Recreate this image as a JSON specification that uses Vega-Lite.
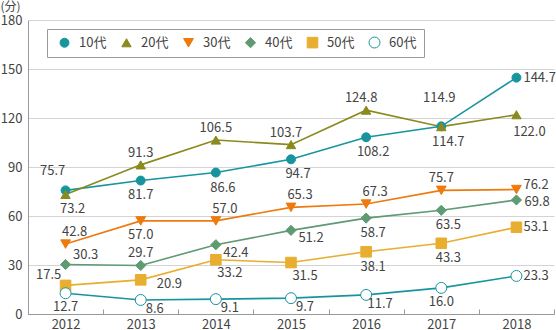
{
  "$schema": "https://vega.github.io/schema/vega-lite/v6.json",
  "width": 526,
  "height": 294,
  "autosize": {"type": "none"},
  "padding": {"left": 28, "top": 20, "right": 2, "bottom": 16},
  "config": {
    "view": {"stroke": null},
    "font": "Noto Sans CJK JP",
    "text": {"font": "Noto Sans CJK JP", "fontSize": 13, "fill": "#444"}
  },
  "data": {
    "values": [
      {"series": "10代", "year": "2012", "value": 75.7},
      {"series": "10代", "year": "2013", "value": 81.7},
      {"series": "10代", "year": "2014", "value": 86.6},
      {"series": "10代", "year": "2015", "value": 94.7},
      {"series": "10代", "year": "2016", "value": 108.2},
      {"series": "10代", "year": "2017", "value": 114.9},
      {"series": "10代", "year": "2018", "value": 144.7},
      {"series": "20代", "year": "2012", "value": 73.2},
      {"series": "20代", "year": "2013", "value": 91.3},
      {"series": "20代", "year": "2014", "value": 106.5},
      {"series": "20代", "year": "2015", "value": 103.7},
      {"series": "20代", "year": "2016", "value": 124.8},
      {"series": "20代", "year": "2017", "value": 114.7},
      {"series": "20代", "year": "2018", "value": 122.0},
      {"series": "30代", "year": "2012", "value": 42.8},
      {"series": "30代", "year": "2013", "value": 57.0},
      {"series": "30代", "year": "2014", "value": 57.0},
      {"series": "30代", "year": "2015", "value": 65.3},
      {"series": "30代", "year": "2016", "value": 67.3},
      {"series": "30代", "year": "2017", "value": 75.7},
      {"series": "30代", "year": "2018", "value": 76.2},
      {"series": "40代", "year": "2012", "value": 30.3},
      {"series": "40代", "year": "2013", "value": 29.7},
      {"series": "40代", "year": "2014", "value": 42.4},
      {"series": "40代", "year": "2015", "value": 51.2},
      {"series": "40代", "year": "2016", "value": 58.7},
      {"series": "40代", "year": "2017", "value": 63.5},
      {"series": "40代", "year": "2018", "value": 69.8},
      {"series": "50代", "year": "2012", "value": 17.5},
      {"series": "50代", "year": "2013", "value": 20.9},
      {"series": "50代", "year": "2014", "value": 33.2},
      {"series": "50代", "year": "2015", "value": 31.5},
      {"series": "50代", "year": "2016", "value": 38.1},
      {"series": "50代", "year": "2017", "value": 43.3},
      {"series": "50代", "year": "2018", "value": 53.1},
      {"series": "60代", "year": "2012", "value": 12.7},
      {"series": "60代", "year": "2013", "value": 8.6},
      {"series": "60代", "year": "2014", "value": 9.1},
      {"series": "60代", "year": "2015", "value": 9.7},
      {"series": "60代", "year": "2016", "value": 11.7},
      {"series": "60代", "year": "2017", "value": 16.0},
      {"series": "60代", "year": "2018", "value": 23.3}
    ]
  },
  "encoding": {
    "x": {
      "field": "year", "type": "ordinal",
      "scale": {"type": "band", "paddingInner": 0, "paddingOuter": 0},
      "axis": {
        "title": null, "labelAngle": 0, "tickBand": "extent", "tickSize": -5,
        "labelPadding": 9, "domainColor": "#999", "tickColor": "#999",
        "labelFontSize": 13, "labelColor": "#444", "labelFont": "Noto Sans CJK JP", "grid": false
      }
    },
    "y": {
      "field": "value", "type": "quantitative",
      "scale": {"domain": [0, 180], "nice": false},
      "axis": {
        "title": "(分)", "titleAngle": 0, "titleX": -28, "titleY": -14, "titleAlign": "left",
        "titleBaseline": "middle", "titleFontSize": 12, "titleFontWeight": "normal", "titleColor": "#444",
        "titleFont": "Noto Sans CJK JP",
        "values": [0, 30, 60, 90, 120, 150, 180], "grid": true, "gridColor": "#d4d4d4",
        "ticks": false, "labelPadding": 6, "domainColor": "#999",
        "labelFontSize": 13, "labelColor": "#444", "labelFont": "Noto Sans CJK JP"
      }
    }
  },
  "layer": [
    {
      "mark": {"type": "line", "strokeWidth": 1.6},
      "encoding": {
        "color": {
          "field": "series", "type": "nominal",
          "scale": {
            "domain": ["10代", "20代", "30代", "40代", "50代", "60代"],
            "range": ["#17959f", "#8a8a1f", "#ee7a0e", "#5e9a72", "#e8ae30", "#17959f"]
          },
          "legend": {
            "orient": "none", "legendX": 19, "legendY": 9, "direction": "horizontal", "columns": 6,
            "title": null, "symbolSize": 441,
            "labelFontSize": 13, "labelColor": "#444", "labelFont": "Noto Sans CJK JP",
            "symbolOffset": 4, "labelOffset": 8, "columnPadding": 9, "padding": 7,
            "strokeColor": "#999", "fillColor": "white",
            "encode": {
              "symbols": {
                "update": {
                  "shape": {"signal": "datum.value === '10代' ? 'M-1,-0.075L1,-0.075L1,0.075L-1,0.075ZM-0.43,0A0.43,0.43 0 1,1 0.43,0A0.43,0.43 0 1,1 -0.43,0Z' : datum.value === '60代' ? 'M-1,-0.075L-0.45,-0.075L-0.45,0.075L-1,0.075ZM0.45,-0.075L1,-0.075L1,0.075L0.45,0.075ZM-0.46,0A0.46,0.46 0 1,1 0.46,0A0.46,0.46 0 1,1 -0.46,0ZM-0.3,0A0.3,0.3 0 1,0 0.3,0A0.3,0.3 0 1,0 -0.3,0Z' : datum.value === '20代' ? 'M-1,0.175L1,0.175L1,0.325L-1,0.325ZM0,-0.45L0.5,0.4L-0.5,0.4Z' : datum.value === '30代' ? 'M-1,-0.325L1,-0.325L1,-0.175L-1,-0.175ZM0,0.45L-0.5,-0.4L0.5,-0.4Z' : datum.value === '40代' ? 'M-1,-0.075L1,-0.075L1,0.075L-1,0.075ZM0,-0.5L0.5,0L0,0.5L-0.5,0Z' : 'M-1,-0.075L1,-0.075L1,0.075L-1,0.075ZM-0.4,-0.4L0.4,-0.4L0.4,0.4L-0.4,0.4Z'"},
                  "fill": {"signal": "scale('color', datum.value)"},
                  "fillOpacity": {"value": 1},
                  "strokeWidth": {"value": 0},
                  "size": {"value": 441},
                  "opacity": {"value": 1}
                }
              }
            }
          }
        }
      }
    },
    {
      "transform": [{"calculate": "datum.series", "as": "age"}],
      "mark": {"type": "point", "opacity": 1},
      "encoding": {
        "shape": {
          "field": "age", "type": "nominal", "legend": null,
          "scale": {
            "domain": ["10代", "20代", "30代", "40代", "50代", "60代"],
            "range": ["circle", "triangle-up", "triangle-down", "diamond", "square", "circle"]
          }
        },
        "fill": {
          "field": "age", "type": "nominal", "legend": null,
          "scale": {
            "domain": ["10代", "20代", "30代", "40代", "50代", "60代"],
            "range": ["#17959f", "#8a8a1f", "#ee7a0e", "#5e9a72", "#e8ae30", "white"]
          }
        },
        "stroke": {
          "field": "age", "type": "nominal", "legend": null,
          "scale": {
            "domain": ["10代", "20代", "30代", "40代", "50代", "60代"],
            "range": ["#17959f", "#8a8a1f", "#ee7a0e", "#5e9a72", "#e8ae30", "#17959f"]
          }
        },
        "strokeWidth": {
          "field": "age", "type": "nominal", "legend": null,
          "scale": {
            "domain": ["10代", "20代", "30代", "40代", "50代", "60代"],
            "range": [1, 1, 1, 1, 1, 2]
          }
        },
        "size": {
          "field": "age", "type": "nominal", "legend": null,
          "scale": {
            "domain": ["10代", "20代", "30代", "40代", "50代", "60代"],
            "range": [80, 120, 120, 110, 75, 70]
          }
        }
      }
    },
    {
      "transform": [{"filter": "indexof(['20代|2013','20代|2014','40代|2013','30代|2017'], datum.series + '|' + datum.year) >= 0"}],
      "mark": {"type": "text", "dx": 0, "dy": -12},
      "encoding": {"text": {"field": "value", "type": "quantitative", "format": ".1f"}}
    },
    {
      "transform": [{"filter": "indexof(['20代|2015','20代|2016'], datum.series + '|' + datum.year) >= 0"}],
      "mark": {"type": "text", "dx": -5, "dy": -12},
      "encoding": {"text": {"field": "value", "type": "quantitative", "format": ".1f"}}
    },
    {
      "transform": [{"filter": "indexof(['30代|2012','30代|2014','30代|2015','30代|2016'], datum.series + '|' + datum.year) >= 0"}],
      "mark": {"type": "text", "dx": 9, "dy": -12},
      "encoding": {"text": {"field": "value", "type": "quantitative", "format": ".1f"}}
    },
    {
      "transform": [{"filter": "datum.series === '10代' && datum.year === '2012'"}],
      "mark": {"type": "text", "dx": -13, "dy": -19},
      "encoding": {"text": {"field": "value", "type": "quantitative", "format": ".1f"}}
    },
    {
      "transform": [{"filter": "datum.series === '10代' && datum.year === '2017'"}],
      "mark": {"type": "text", "dx": -2, "dy": -28},
      "encoding": {"text": {"field": "value", "type": "quantitative", "format": ".1f"}}
    },
    {
      "transform": [{"filter": "datum.series === '40代' && datum.year === '2012'"}],
      "mark": {"type": "text", "dx": 20, "dy": -10},
      "encoding": {"text": {"field": "value", "type": "quantitative", "format": ".1f"}}
    },
    {
      "transform": [{"filter": "datum.series === '50代' && datum.year === '2012'"}],
      "mark": {"type": "text", "dx": -17, "dy": -10},
      "encoding": {"text": {"field": "value", "type": "quantitative", "format": ".1f"}}
    },
    {
      "transform": [{"filter": "indexof(['10代|2013','30代|2013','60代|2012','60代|2017'], datum.series + '|' + datum.year) >= 0"}],
      "mark": {"type": "text", "dx": 0, "dy": 14},
      "encoding": {"text": {"field": "value", "type": "quantitative", "format": ".1f"}}
    },
    {
      "transform": [{"filter": "indexof(['10代|2014','10代|2015','10代|2016','20代|2012','20代|2017','40代|2016','40代|2017','50代|2016','50代|2017'], datum.series + '|' + datum.year) >= 0"}],
      "mark": {"type": "text", "dx": 7, "dy": 15},
      "encoding": {"text": {"field": "value", "type": "quantitative", "format": ".1f"}}
    },
    {
      "transform": [{"filter": "indexof(['50代|2014','50代|2015'], datum.series + '|' + datum.year) >= 0"}],
      "mark": {"type": "text", "dx": 14, "dy": 13},
      "encoding": {"text": {"field": "value", "type": "quantitative", "format": ".1f"}}
    },
    {
      "transform": [{"filter": "datum.series === '20代' && datum.year === '2018'"}],
      "mark": {"type": "text", "dx": 13, "dy": 17},
      "encoding": {"text": {"field": "value", "type": "quantitative", "format": ".1f"}}
    },
    {
      "transform": [{"filter": "indexof(['60代|2013','60代|2014','60代|2015','60代|2016'], datum.series + '|' + datum.year) >= 0"}],
      "mark": {"type": "text", "dx": 14, "dy": 9},
      "encoding": {"text": {"field": "value", "type": "quantitative", "format": ".1f"}}
    },
    {
      "transform": [{"filter": "indexof(['40代|2014','40代|2015'], datum.series + '|' + datum.year) >= 0"}],
      "mark": {"type": "text", "dx": 20, "dy": 8},
      "encoding": {"text": {"field": "value", "type": "quantitative", "format": ".1f"}}
    },
    {
      "transform": [{"filter": "datum.year === '2018' && indexof(['10代','50代','60代'], datum.series) >= 0"}],
      "mark": {"type": "text", "align": "left", "dx": 7, "dy": 0},
      "encoding": {"text": {"field": "value", "type": "quantitative", "format": ".1f"}}
    },
    {
      "transform": [{"filter": "datum.year === '2018' && datum.series === '40代'"}],
      "mark": {"type": "text", "align": "left", "dx": 8, "dy": 2},
      "encoding": {"text": {"field": "value", "type": "quantitative", "format": ".1f"}}
    },
    {
      "transform": [{"filter": "datum.year === '2018' && datum.series === '30代'"}],
      "mark": {"type": "text", "align": "left", "dx": 7, "dy": -5},
      "encoding": {"text": {"field": "value", "type": "quantitative", "format": ".1f"}}
    },
    {
      "transform": [{"filter": "datum.year === '2013' && datum.series === '50代'"}],
      "mark": {"type": "text", "align": "left", "dx": 16, "dy": 4},
      "encoding": {"text": {"field": "value", "type": "quantitative", "format": ".1f"}}
    }
  ]
}
